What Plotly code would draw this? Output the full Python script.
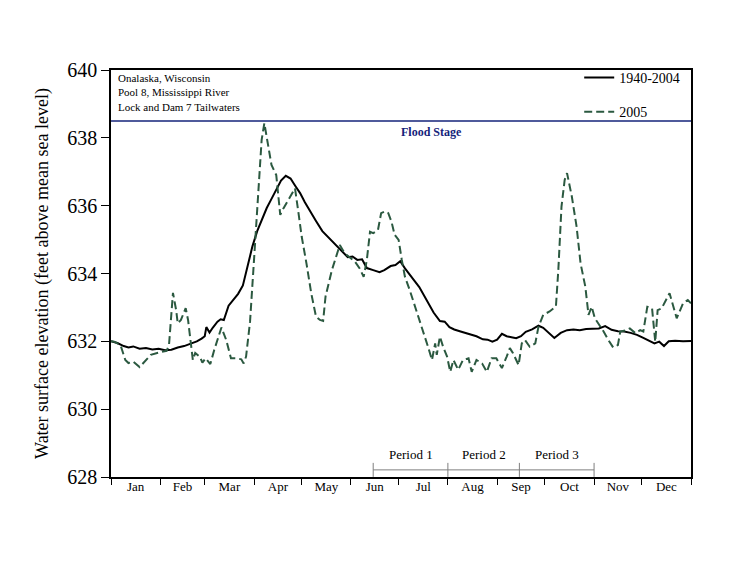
import plotly.graph_objects as go

# day-of-year axis (0 = Jan 1, 365 = Dec 31)
month_names = ["Jan", "Feb", "Mar", "Apr", "May", "Jun", "Jul", "Aug", "Sep", "Oct", "Nov", "Dec"]
month_starts = [0, 31, 59, 90, 120, 151, 181, 212, 243, 273, 304, 334, 365]

period_names = ["Period 1", "Period 2", "Period 3"]
period_bounds = [165, 212, 257, 304]

flood_stage = 638.5

# 1940-2004 mean water surface elevation
mean_days = [0, 4, 8, 11, 14, 18, 22, 26, 30, 34, 38, 42, 46, 50, 54, 57, 59, 60, 62, 64,
             67, 69, 71, 74, 77, 80, 83, 86, 89, 92, 95, 98, 101, 104, 107, 110, 113, 116, 119, 122,
             125, 129, 133, 137, 141, 145, 149, 152, 155, 158, 161, 165, 169, 172, 176, 179, 182, 185, 188, 191,
             194, 197, 200, 203, 207, 210, 213, 216, 220, 223, 226, 230, 234, 237, 240, 243, 246, 249, 252, 255,
             258, 261, 265, 269, 272, 275, 279, 283, 287, 291, 295, 299, 303, 307, 311, 315, 319, 323, 327, 331,
             335, 339, 342, 345, 348, 351, 355, 360, 365]
mean_elev = [632.00, 631.95, 631.86, 631.82, 631.85, 631.78, 631.80, 631.76, 631.78, 631.74,
             631.75, 631.82, 631.86, 631.93, 632.00, 632.08, 632.15, 632.42, 632.26, 632.40,
             632.58, 632.65, 632.63, 633.05, 633.22, 633.40, 633.65, 634.25, 634.80, 635.25,
             635.62, 635.93, 636.20, 636.45, 636.74, 636.88, 636.80, 636.58, 636.37, 636.10,
             635.85, 635.55, 635.25, 635.05, 634.85, 634.68, 634.48, 634.50, 634.40, 634.42,
             634.16, 634.10, 634.04, 634.10, 634.22, 634.25, 634.36, 634.15, 633.95, 633.78,
             633.60, 633.35, 633.08, 632.85, 632.60, 632.58, 632.42, 632.35, 632.29, 632.25,
             632.20, 632.15, 632.06, 632.05, 631.99, 632.05, 632.22, 632.15, 632.12, 632.09,
             632.15, 632.28, 632.35, 632.46, 632.40, 632.28, 632.10, 632.25, 632.33, 632.35,
             632.33, 632.36, 632.38, 632.38, 632.45, 632.34, 632.30, 632.29, 632.25, 632.19,
             632.10, 632.02, 631.94, 631.99, 631.86, 632.00, 632.02, 632.00, 632.01]

# 2005 water surface elevation
days_2005 = [0, 2, 6, 9, 11, 14, 18, 21, 25, 30, 35, 36.5, 39, 41, 42, 44, 47, 48.5, 50.5, 51.5,
             53, 56, 57.5, 59.5, 62.5, 65, 69.5, 72.5, 75.5, 79, 82, 83.5, 85, 87.5, 90, 92.7, 94.8, 96.5, 99, 101,
             104, 105.3, 106.5, 108.5, 111.5, 115.8, 118, 120, 123, 126, 129, 131.5, 133.5, 135, 139, 144, 147, 150, 153.5, 156.5,
             159, 161, 163, 165, 168, 170, 172.5, 174.5, 176.5, 178.5, 181, 183, 185, 188, 191.5, 194.5, 197.5, 199.5, 202, 204,
             205, 207, 209, 211.5, 213.5, 215.5, 218.5, 221.5, 225, 227, 230, 233.5, 236.5, 239.5, 242.5, 246, 249, 251, 253, 256.5,
             258.5, 260.5, 263.5, 267, 269, 272, 276, 280, 281.5, 283.5, 285.5, 287, 290, 293, 295.5, 298.5, 300.5, 302.5, 304.5, 307.5,
             310, 313, 316, 319, 320.5, 323.5, 326.5, 330, 333, 335, 337.5, 340.5, 342.5, 344, 346.5, 351.5, 356, 360, 363, 365]
elev_2005 = [632.00, 631.99, 631.89, 631.45, 631.36, 631.40, 631.24, 631.40, 631.60, 631.67,
             631.72, 631.89, 633.43, 632.92, 632.53, 632.63, 632.98, 632.63, 631.70, 631.45,
             631.66, 631.54, 631.37, 631.50, 631.33, 631.75, 632.41, 632.04, 631.50, 631.50,
             631.47, 631.35, 631.55, 632.58, 634.40, 636.27, 637.94, 638.43, 637.74, 637.20,
             636.90, 636.27, 635.73, 635.92, 636.17, 636.51, 635.78, 635.09, 634.30, 633.42,
             632.73, 632.63, 632.60, 633.32, 634.10, 634.84, 634.60, 634.48, 634.35, 634.15,
             633.90, 634.40, 635.23, 635.19, 635.28, 635.78, 635.83, 635.78, 635.53, 635.14,
             634.99, 634.40, 633.90, 633.51, 633.02, 632.53, 632.14, 631.84, 631.45, 631.94,
             631.60, 632.14, 631.84, 631.55, 631.10, 631.45, 631.16, 631.45, 631.50, 631.10,
             631.45, 631.35, 631.10, 631.50, 631.50, 631.21, 631.55, 631.80, 631.65, 631.30,
             631.94, 632.04, 631.84, 631.94, 632.43, 632.78, 632.88, 633.03, 634.10, 635.97,
             636.76, 636.96, 636.27, 635.38, 634.30, 633.61, 632.78, 633.02, 632.68, 632.48,
             632.29, 632.04, 631.82, 631.89, 632.29, 632.32, 632.38, 632.24, 632.33, 632.29,
             633.02, 632.97, 631.99, 632.92, 632.97, 633.42, 632.68, 633.12, 633.22, 633.12]

navy = "#14237A"
green = "#2B5940"
serif = "Liberation Serif, Times New Roman, serif"

fig = go.Figure()

fig.add_trace(go.Scatter(x=mean_days, y=mean_elev, mode="lines", name="1940-2004",
                         legendgroup="a", line=dict(color="black", width=2)))
fig.add_trace(go.Scatter(x=days_2005, y=elev_2005, mode="lines", name="2005",
                         legendgroup="b", line=dict(color=green, width=2, dash="8px,4px")))

# period brackets along the bottom
bracket_y = 628.21
fig.add_trace(go.Scatter(x=period_bounds, y=[bracket_y] * len(period_bounds), mode="lines+markers",
                         xaxis="x2", showlegend=False, hoverinfo="skip",
                         line=dict(color="#7f7f7f", width=1),
                         marker=dict(symbol="line-ns", size=10, line=dict(color="#7f7f7f", width=1))))

for i, name in enumerate(period_names):
    fig.add_annotation(x=(period_bounds[i] + period_bounds[i + 1]) / 2, y=bracket_y, yshift=6,
                       yanchor="bottom", text=name, showarrow=False, font=dict(size=13))

fig.add_shape(type="line", xref="paper", x0=0, x1=1, yref="y", y0=flood_stage, y1=flood_stage,
              line=dict(color=navy, width=1.5))
fig.add_annotation(x=202, y=flood_stage, yshift=-2, yanchor="top", text="<b>Flood Stage</b>",
                   showarrow=False, font=dict(size=12, color=navy))

fig.add_annotation(xref="paper", yref="paper", x=0, y=1, xanchor="left", yanchor="top",
                   xshift=5, yshift=0, align="left", showarrow=False, font=dict(size=11),
                   text="Onalaska, Wisconsin<br>Pool 8, Mississippi River<br>Lock and Dam 7 Tailwaters")

month_mids = [(month_starts[i] + month_starts[i + 1]) / 2 for i in range(12)]

fig.update_layout(
    width=740, height=572,
    margin=dict(l=103, r=57, t=62, b=103),
    paper_bgcolor="white", plot_bgcolor="white",
    font=dict(family=serif, color="black"),
    showlegend=True,
    legend=dict(x=0.99, xanchor="right", y=1.02, yanchor="top", bgcolor="rgba(0,0,0,0)",
                font=dict(size=14), tracegroupgap=13, itemwidth=30),
    xaxis=dict(range=[0, 365], tickvals=month_starts, ticktext=[""] * len(month_starts),
               ticks="outside", ticklen=6, tickcolor="black", showline=True, linecolor="black",
               linewidth=1.5, mirror=True, showgrid=False, zeroline=False),
    xaxis2=dict(range=[0, 365], overlaying="x", anchor="y", side="bottom",
                tickvals=month_mids, ticktext=month_names, ticks="", ticklen=0,
                showline=False, showgrid=False, zeroline=False,
                tickfont=dict(size=13)),
    yaxis=dict(range=[628, 640], tickvals=list(range(628, 641, 2)), ticks="outside", ticklen=8,
               tickcolor="black", showline=True, linecolor="black", linewidth=1.5, mirror=True,
               showgrid=False, zeroline=False, tickfont=dict(size=20),
               title=dict(text="Water surface elevation (feet above mean sea level)",
                          font=dict(size=18), standoff=14)),
)

fig.write_html("out.html")
